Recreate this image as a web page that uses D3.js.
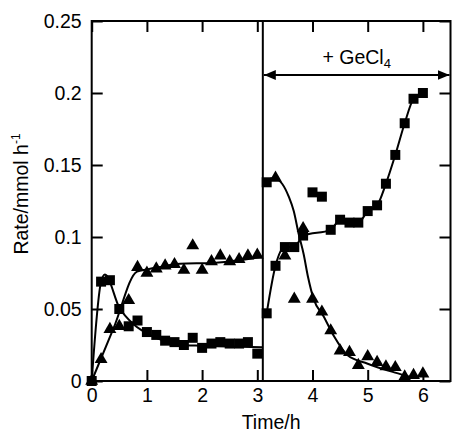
<!DOCTYPE html>
<html lang="en">
<head>
<meta charset="UTF-8">
<title>Rate vs time</title>
<script src="https://d3js.org/d3.v7.min.js"></script>
<style>
  body { margin: 0; background: #fff; }
  text { font-family: Arial, "Liberation Sans", sans-serif; fill: #000; }
</style>
</head>
<body>
<div id="wrapper"></div>
<script>
// ---- values ----
// left part (before GeCl4)
const sqTimeL  = [0, 0.17, 0.33, 0.5, 0.67, 0.83, 1.0, 1.17, 1.33, 1.5, 1.67, 1.83, 2.0, 2.17, 2.33, 2.5, 2.67, 2.83, 3.0];
const sqValL   = [0, 0.069, 0.070, 0.050, 0.038, 0.042, 0.034, 0.032, 0.028, 0.027, 0.025, 0.030, 0.023, 0.026, 0.027, 0.026, 0.026, 0.027, 0.019];
const triTimeL = [0, 0.17, 0.33, 0.5, 0.67, 0.83, 1.0, 1.17, 1.33, 1.5, 1.67, 1.83, 2.0, 2.17, 2.33, 2.5, 2.67, 2.83, 3.0];
const triValL  = [0, 0.015, 0.036, 0.038, 0.056, 0.079, 0.075, 0.078, 0.080, 0.081, 0.077, 0.094, 0.077, 0.083, 0.087, 0.083, 0.0845, 0.087, 0.0875];

// right part (+ GeCl4)
const sqTimeR  = [3.17, 3.17, 3.33, 3.5, 3.67, 3.83, 4.0, 4.17, 4.33, 4.5, 4.67, 4.83, 5.0, 5.17, 5.33, 5.5, 5.67, 5.83, 6.0];
const sqValR   = [0.138, 0.047, 0.080, 0.093, 0.093, 0.101, 0.131, 0.128, 0.105, 0.112, 0.110, 0.110, 0.118, 0.122, 0.137, 0.157, 0.179, 0.196, 0.200];
const triTimeR = [3.33, 3.5, 3.67, 3.83, 4.0, 4.17, 4.33, 4.5, 4.67, 4.83, 5.0, 5.17, 5.33, 5.5, 5.67, 5.83, 6.0];
const triValR  = [0.141, 0.087, 0.057, 0.106, 0.057, 0.048, 0.035, 0.021, 0.020, 0.011, 0.017, 0.013, 0.010, 0.0095, 0.003, 0.004, 0.005];

// fitted curves drawn through the points
const fitSqTimeL  = [0, 0.17, 0.24, 0.5, 0.77, 1.0, 1.3, 1.6, 2.0, 2.5, 3.1];
const fitSqValL   = [0, 0.069, 0.074, 0.051, 0.039, 0.033, 0.028, 0.025, 0.0245, 0.024, 0.0235];
const fitTriTimeL = [0, 0.4, 0.82, 1.0, 1.2, 1.6, 2.2, 2.7, 3.1];
const fitTriValL  = [0, 0.037, 0.076, 0.0775, 0.079, 0.0815, 0.082, 0.084, 0.0865];
const fitSqTimeR  = [3.17, 3.33, 3.5, 3.67, 3.83, 4.33, 4.5, 4.67, 4.83, 5.0, 5.17, 5.33, 5.5, 5.67, 5.83, 6.0];
const fitSqValR   = [0.047, 0.080, 0.093, 0.093, 0.101, 0.105, 0.112, 0.110, 0.110, 0.118, 0.122, 0.137, 0.157, 0.179, 0.196, 0.200];
const fitTriTimeR = [3.12, 3.3, 3.45, 3.57, 3.66, 3.75, 3.84, 3.92, 4.02, 4.2, 4.39, 4.63, 5.0, 5.48, 5.85];
const fitTriValR  = [0.138, 0.141, 0.137, 0.128, 0.118, 0.102, 0.088, 0.072, 0.057, 0.045, 0.031, 0.018, 0.012, 0.006, 0.002];

// axes
const xTicks = [0, 1, 2, 3, 4, 5, 6];
const xTickLabels = ["0", "1", "2", "3", "4", "5", "6"];
const yTicks = [0, 0.05, 0.1, 0.15, 0.2, 0.25];
const yTickLabels = ["0", "0.05", "0.1", "0.15", "0.2", "0.25"];
const addTime = 3.1;

const W = 453, H = 433;
const fs = 19.5;

const svg = d3.select("#wrapper").append("svg")
  .attr("width", W)
  .attr("height", H);

const x = d3.scaleLinear().domain([0, 6.5]).range([91.7, 450.5]);
const y = d3.scaleLinear().domain([0, 0.25]).range([381, 21]);

// arrow head
svg.append("defs").append("marker")
  .attr("id", "head")
  .attr("viewBox", "0 0 12 10")
  .attr("refX", 12).attr("refY", 5)
  .attr("markerWidth", 12).attr("markerHeight", 10)
  .attr("markerUnits", "userSpaceOnUse")
  .attr("orient", "auto-start-reverse")
  .append("path").attr("d", "M0,0 L12,5 L0,10 Z").attr("fill", "#000");

// inward ticks on all four sides
function styleAxis(g) {
  g.select(".domain").remove();
  g.selectAll(".tick line").attr("stroke", "#000").attr("stroke-width", 2);
  g.selectAll(".tick text").style("font-size", fs + "px").attr("fill", "#000");
}
svg.append("g")
  .attr("transform", `translate(0,${y(0)})`)
  .call(d3.axisBottom(x).tickValues(xTicks).tickSizeInner(-11).tickSizeOuter(0).tickPadding(7)
    .tickFormat((d, i) => xTickLabels[i]))
  .call(styleAxis);
svg.append("g")
  .attr("transform", `translate(0,${y(0.25)})`)
  .call(d3.axisTop(x).tickValues(xTicks).tickSizeInner(-11).tickSizeOuter(0).tickFormat(""))
  .call(styleAxis);
svg.append("g")
  .attr("transform", `translate(${x(0)},0)`)
  .call(d3.axisLeft(y).tickValues(yTicks).tickSizeInner(-11).tickSizeOuter(0).tickPadding(10)
    .tickFormat((d, i) => yTickLabels[i]))
  .call(styleAxis);
svg.append("g")
  .attr("transform", `translate(${x(6.5)},0)`)
  .call(d3.axisRight(y).tickValues(yTicks).tickSizeInner(-11).tickSizeOuter(0).tickFormat(""))
  .call(styleAxis);

// frame
svg.append("rect")
  .attr("x", x(0)).attr("y", y(0.25))
  .attr("width", x(6.5) - x(0)).attr("height", y(0) - y(0.25))
  .attr("fill", "none").attr("stroke", "#000").attr("stroke-width", 2);

// GeCl4 addition line
svg.append("line")
  .attr("x1", x(addTime)).attr("x2", x(addTime))
  .attr("y1", y(0.25)).attr("y2", y(0))
  .attr("stroke", "#000").attr("stroke-width", 2);

svg.append("line")
  .attr("x1", x(addTime) + 1).attr("x2", x(6.5) - 1)
  .attr("y1", 75).attr("y2", 75)
  .attr("stroke", "#000").attr("stroke-width", 2)
  .attr("marker-start", "url(#head)")
  .attr("marker-end", "url(#head)");

const lbl = svg.append("text")
  .attr("x", (x(addTime) + x(6.5)) / 2).attr("y", 64)
  .attr("text-anchor", "middle")
  .style("font-size", fs + "px");
lbl.append("tspan").text("+ GeCl");
lbl.append("tspan").attr("dy", 4).style("font-size", "13px").text("4");

// fitted lines
const line = d3.line().x(d => x(d[0])).y(d => y(d[1])).curve(d3.curveMonotoneX);
[[fitSqTimeL, fitSqValL], [fitTriTimeL, fitTriValL], [fitSqTimeR, fitSqValR], [fitTriTimeR, fitTriValR]]
  .forEach(([t, v]) => {
    svg.append("path")
      .datum(t.map((d, i) => [d, v[i]]))
      .attr("d", line)
      .attr("fill", "none").attr("stroke", "#000").attr("stroke-width", 2);
  });

// markers
const sq = d3.symbol(d3.symbolSquare, 100);
const tri = d3.symbol(d3.symbolTriangle, 72);
function points(t, v, sym) {
  svg.append("g").selectAll("path")
    .data(t.map((d, i) => [d, v[i]]))
    .join("path")
      .attr("transform", d => `translate(${x(d[0])},${y(d[1])})`)
      .attr("d", sym)
      .attr("fill", "#000");
}
points(triTimeL, triValL, tri);
points(sqTimeL, sqValL, sq);
points(triTimeR, triValR, tri);
points(sqTimeR, sqValR, sq);

// axis titles
svg.append("text")
  .attr("x", x(3.25)).attr("y", 429)
  .attr("text-anchor", "middle")
  .style("font-size", fs + "px")
  .text("Time/h");

const yl = svg.append("text")
  .attr("transform", `translate(28,194) rotate(-90)`)
  .attr("text-anchor", "middle")
  .style("font-size", fs + "px");
yl.append("tspan").text("Rate/mmol h");
yl.append("tspan").attr("dy", -8).style("font-size", "12px").text("-1");
</script>
</body>
</html>
